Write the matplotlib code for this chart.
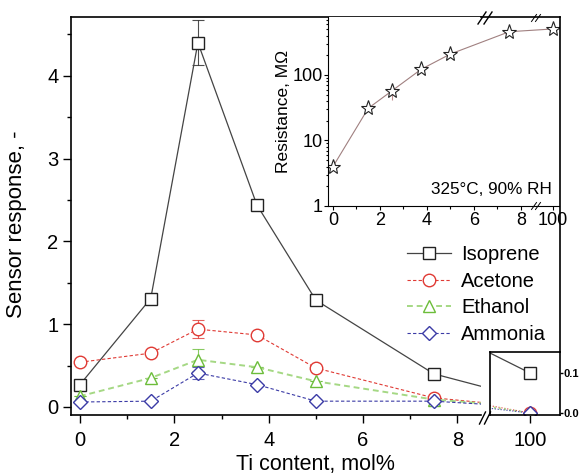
import matplotlib
matplotlib.use('Agg')
import matplotlib.pyplot as plt
from matplotlib.lines import Line2D
from matplotlib.ticker import MultipleLocator, FixedLocator, NullFormatter, LogLocator

plt.rcParams['font.family'] = ['Liberation Sans', 'DejaVu Sans']

## Data
ti = [0, 1.5, 2.5, 3.75, 5, 7.5]
ti_pure = 100

isoprene = [0.27, 1.31, 4.40, 2.44, 1.29, 0.40]
acetone = [0.54, 0.65, 0.94, 0.87, 0.47, 0.11]
ethanol = [0.13, 0.35, 0.57, 0.48, 0.31, 0.09]
ammonia = [0.06, 0.07, 0.41, 0.27, 0.07, 0.07]
isoprene_err = [0, 0, 0.27, 0, 0, 0]
acetone_err = [0, 0, 0.11, 0, 0, 0]
ethanol_err = [0, 0, 0.13, 0, 0, 0]
ammonia_err = [0, 0, 0.07, 0, 0, 0]
# response of pure TiO2 (100 mol%)
pure_resp = [0.10, 0.0, 0.0, 0.0]

resistance = [4, 31, 57, 122, 209, 457]
resistance_pure = 504
resistance_err = [0, 0, 15, 0, 0, 0]

## Layout helpers (pixel -> figure fraction)
W, H = 580, 475
fx = lambda px: px / W
fy = lambda py: 1 - py / H
X_VIRT_MAIN = 9.5     # where the 100 mol% point sits on the compressed main axis
X_VIRT_PANEL = 76     # where the 7.5 mol% point sits on the zoomed 100 panel
X_VIRT_INSET = 9.36   # 100 mol% position on inset axis

fig = plt.figure(figsize=(5.8, 4.75), dpi=100)

ax1 = fig.add_axes([fx(71), fy(415), fx(481) - fx(71), fy(17) - fy(415)])
ax3 = fig.add_axes([fx(490), fy(415), fx(560) - fx(490), fy(352) - fy(415)])
ax2 = fig.add_axes([fx(328), fy(206), fx(559) - fx(328), fy(17) - fy(206)])

series = [
    ('Isoprene', isoprene, isoprene_err, 's', '#222222', '#444444', '-', 0.9),
    ('Acetone', acetone, acetone_err, 'o', '#e03a34', '#e03a34', (0, (3, 2)), 0.8),
    ('Ethanol', ethanol, ethanol_err, '^', '#6cbd3a', '#a5d884', (0, (3, 2)), 1.4),
    ('Ammonia', ammonia, ammonia_err, 'D', '#3b3ba6', '#3b3ba6', (0, (3, 2)), 0.8),
]

handles = []
for (name, vals, err, mk, ec, lc, ls, lw), v100 in zip(series, pure_resp):
    ms = 9 if mk != 'D' else 7.5
    ax1.errorbar(ti, vals, yerr=err, fmt='none', ecolor=ec, elinewidth=0.8, capsize=4, capthick=0.8, alpha=0.8)
    h, = ax1.plot(ti + [X_VIRT_MAIN], vals + [v100], color=lc, ls=ls, lw=lw,
                  marker=mk, ms=ms, mfc='white', mec=ec, mew=1.0, markevery=list(range(len(ti))),
                  label=name)
    ax3.plot([X_VIRT_PANEL, ti_pure], [vals[-1], v100], color=lc, ls=ls if name == 'Isoprene' else ':',
             lw=lw, marker=mk, ms=ms, mfc='white', mec=ec, mew=1.0, markevery=[1])
    handles.append(h)

ax1.set_xlim(-0.19, 8.5)
ax1.set_ylim(-0.097, 4.71)
ax1.xaxis.set_major_locator(MultipleLocator(2))
ax1.xaxis.set_minor_locator(MultipleLocator(1))
ax1.yaxis.set_major_locator(MultipleLocator(1))
ax1.yaxis.set_minor_locator(MultipleLocator(0.5))
ax1.tick_params(which='both', direction='out', labelsize=14.5, width=1, top=False, right=False)
ax1.tick_params(which='major', length=5.5)
ax1.tick_params(which='minor', length=3)
ax1.tick_params(axis='x', pad=6)
ax1.spines['right'].set_visible(False)
for s in ('left', 'bottom', 'top'):
    ax1.spines[s].set_linewidth(1.2)
ax1.set_ylabel('Sensor response, -', fontsize=16)
ax1.yaxis.set_label_coords(-0.107, 0.48)
ax1.set_xlabel('Ti content, mol%', fontsize=15.5)
ax1.xaxis.set_label_coords(0.595, -0.098)

# zoomed panel for 100 mol%
ax3.set_xlim(96, 103)
ax3.set_ylim(-0.005, 0.1525)
ax3.set_xticks([ti_pure])
ax3.set_xticklabels(['100'])
ax3.yaxis.tick_right()
ax3.set_yticks([0.0, 0.1])
ax3.set_yticklabels(['0.0', '0.1'], fontweight='bold', fontsize=8)
ax3.tick_params(axis='x', direction='out', length=5.5, labelsize=14.5, width=1, pad=6)
ax3.tick_params(axis='y', direction='out', length=2, width=1, pad=0.5)
for s in ax3.spines.values():
    s.set_linewidth(1.2)

# inset: resistance
ax2.set_facecolor('white')
ax2.errorbar(ti, resistance, yerr=resistance_err, fmt='none', ecolor='#c09090', elinewidth=0.8, capsize=0)
ax2.plot(ti + [X_VIRT_INSET], resistance + [resistance_pure], color='#a08080', lw=0.8,
         marker='*', ms=11, mfc='white', mec='#222222', mew=0.8)
ax2.set_yscale('log')
ax2.set_xlim(-0.213, 9.62)
ax2.set_ylim(1, 767)
ax2.xaxis.set_major_locator(FixedLocator([0, 2, 4, 6, 8, X_VIRT_INSET]))
ax2.set_xticklabels(['0', '2', '4', '6', '8', '100'])
ax2.xaxis.set_minor_locator(FixedLocator([1, 3, 5, 7]))
ax2.yaxis.set_major_locator(FixedLocator([1, 10, 100]))
ax2.set_yticklabels(['1', '10', '100'])
ax2.yaxis.set_minor_locator(LogLocator(base=10, subs=range(2, 10)))
ax2.yaxis.set_minor_formatter(NullFormatter())
ax2.tick_params(which='both', direction='out', labelsize=13, width=0.8, pad=1)
ax2.tick_params(which='major', length=3)
ax2.tick_params(which='minor', length=1.8)
ax2.spines['top'].set_visible(False)
ax2.spines['right'].set_visible(False)
ax2.set_ylabel('Resistance, M\u03a9', fontsize=12.5, labelpad=1)
ax2.text(0.97, 0.05, '325\u00b0C, 90% RH', transform=ax2.transAxes, ha='right', va='bottom', fontsize=12.3)

# outer frame pieces
fig.add_artist(Line2D([fx(481), fx(560)], [fy(17), fy(17)], color='k', lw=1.2))
fig.add_artist(Line2D([fx(560), fx(560)], [fy(17), fy(352)], color='k', lw=1.2))


def brk(xc, yc, w, h, gap, lw=1.0):
    for dx in (-gap / 2, gap / 2):
        fig.add_artist(Line2D([fx(xc + dx - w / 2), fx(xc + dx + w / 2)],
                              [fy(yc + h / 2), fy(yc - h / 2)], color='k', lw=lw))


brk(485, 418, 6, 12, 5)
brk(485, 18, 8, 12, 6)
brk(536, 18, 5, 7, 4, 0.7)
brk(536, 206, 5, 7, 4, 0.7)

ax1.legend(handles=handles, loc='upper left', bbox_to_anchor=(fx(407), fy(245)),
           bbox_transform=fig.transFigure, frameon=False, fontsize=14.5, borderpad=0,
           handlelength=2.2, handletextpad=0.5, labelspacing=0.38, borderaxespad=0)

fig.savefig('out.png', dpi=100)
